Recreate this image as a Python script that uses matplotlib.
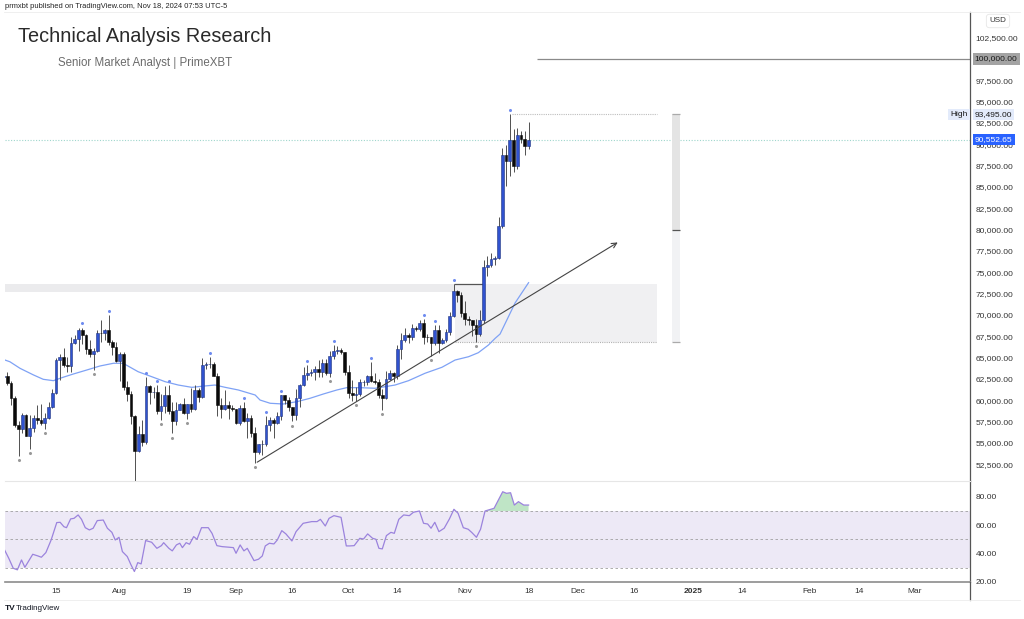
import matplotlib.pyplot as plt
import matplotlib.transforms as mtransforms
import numpy as np
import pandas as pd

plt.rcParams['font.family'] = ['Liberation Sans', 'DejaVu Sans']

# daily BTCUSD candles, 1 Jul - 18 Nov 2024
start = pd.Timestamp('2024-07-01')
dates = pd.date_range(start, '2024-11-18', freq='D')

opens = [62700, 62850, 62050, 60200, 57050, 56650, 58250, 55850, 56700, 57950, 57700, 57350, 57900, 59200, 60800,
         64750, 65050, 64100, 63950, 66700, 67150, 68200, 67600, 65950, 65400, 65800, 67900, 67850, 68250, 66800, 66200,
         64600, 65350, 61500, 60700, 58100, 54000, 56000, 55100, 61700, 60900, 60950, 58700, 59350, 60600, 58750,
         57550, 58900, 59500, 58450, 59500, 59000, 61150, 60400, 64100, 64200, 64250, 62850, 59400, 59000, 59400, 59100,
         58950, 57300, 59100, 57500, 57950, 56150, 53950, 54850, 54900, 57050, 57650, 57350, 58150, 60550, 60000,
         59150, 58200, 60300, 61750, 62950, 63200, 63350, 63600, 63300, 64300, 63150, 65200, 65800, 65900, 65600,
         63300, 60800, 60650, 60750, 62100, 62150, 62800, 62200, 62150, 60600, 60300, 62450, 63200, 62850, 66050,
         67050, 67600, 67400, 68400, 68350, 69000, 67400, 67350, 66700, 68200, 66650, 67050, 67950, 69900, 72750, 72300,
         70200, 69500, 69350, 68750, 67800, 69400, 75600, 75900, 76550, 76700, 80450, 88700, 88000, 90500, 87400,
         91100, 90600, 89850]
highs = [63800, 63300, 62300, 60500, 57500, 58450, 58400, 58200, 58300, 59400, 59500, 58500, 59800, 61300, 64900,
         65400, 66100, 65100, 67400, 67600, 68400, 68500, 67800, 67100, 66100, 68200, 69400, 68300, 70000, 67000, 66800,
         65600, 65600, 62200, 61100, 58300, 57000, 57700, 62700, 61800, 61500, 61800, 60700, 61600, 61800, 59800,
         59800, 59700, 60200, 59600, 61400, 61800, 61400, 64900, 64500, 65000, 64500, 63200, 60200, 61200, 59900, 59400,
         59000, 59400, 59800, 58500, 58300, 56900, 54900, 55300, 58100, 58000, 57900, 58600, 60600, 60650, 60400,
         59200, 61300, 61850, 63900, 64100, 63600, 64000, 64700, 64800, 64800, 65800, 66500, 66300, 66100, 65700,
         64100, 62400, 61500, 62500, 62400, 63000, 64500, 63200, 62500, 61300, 63400, 63500, 63300, 66500,
         67900, 68400, 67900, 68900, 68700, 69400, 69500, 67800, 67400, 68800, 68800, 67300, 68300, 70300, 73600, 72900,
         72700, 71600, 69900, 69400, 69500, 70600, 76400, 76900, 77300, 76900, 81500, 89600, 89900, 93495, 91800,
         91900, 91500, 91500, 92600]
lows = [62500, 61800, 59400, 56800, 53500, 56100, 55750, 54300, 56300, 57200, 57100, 56600, 57800, 59100, 60700,
        62400, 63900, 63300, 63300, 66600, 65800, 66600, 65400, 65100, 63500, 65700, 66800, 67100, 66500, 65300, 64500,
        62300, 61200, 59900, 57200, 49000, 53900, 54600, 54800, 59600, 60300, 58400, 57700, 58500, 58400, 56100,
        57100, 58800, 58400, 57800, 58600, 58800, 59800, 60300, 63600, 63800, 62800, 58100, 57900, 58800, 57800, 58700,
        57200, 57100, 57400, 55600, 55700, 52600, 53700, 53600, 54600, 56400, 55600, 57200, 57700, 59500, 58700,
        57500, 57700, 59200, 61600, 62400, 62800, 62400, 62700, 62700, 62900, 62700, 64800, 65400, 65400, 62900,
        60200, 59900, 59900, 60500, 61700, 61800, 62100, 61900, 60300, 58900, 60100, 62350, 62100, 62500,
        64800, 66800, 66700, 67100, 68100, 68100, 66600, 66800, 65200, 66500, 65500, 66600, 66800, 67600, 69700, 71500,
        69700, 68800, 68800, 67500, 66800, 67500, 69100, 74500, 75600, 75800, 76500, 80200, 85100, 86300, 86700,
        87100, 90100, 88700, 89500]
closes = [62850, 62050, 60200, 57050, 56650, 58250, 55850, 56700, 57950, 57700, 57350, 57900, 59200, 60800, 64750,
          65050, 64100, 63950, 66700, 67150, 68200, 67600, 65950, 65400, 65800, 67900, 67850, 68250, 66800, 66200, 64600,
          65350, 61500, 60700, 58100, 54000, 56000, 55100, 61700, 60900, 60950, 58700, 59350, 60600, 58750, 57550,
          58900, 59500, 58450, 59500, 59000, 61150, 60400, 64100, 64200, 64250, 62850, 59400, 59000, 59400, 59100, 58950,
          57300, 59100, 57500, 57950, 56150, 53950, 54850, 54900, 57050, 57650, 57350, 58150, 60550, 60000, 59150,
          58200, 60300, 61750, 62950, 63200, 63350, 63600, 63300, 64300, 63150, 65200, 65800, 65900, 65600, 63300,
          60800, 60650, 60750, 62100, 62150, 62800, 62200, 62150, 60600, 60300, 62450, 63200, 62850, 66050,
          67050, 67600, 67400, 68400, 68350, 69000, 67400, 67350, 66700, 68200, 66650, 67050, 67950, 69900, 72750, 72300,
          70200, 69500, 69350, 68750, 67800, 69400, 75600, 75900, 76550, 76700, 80450, 88700, 88000, 90500, 87400,
          91100, 90600, 89850, 90552.65]

# pivot markers (day index from 1 Jul)
pivot_high_days = [21, 28, 38, 41, 44, 55, 64, 70, 74, 81, 88, 98, 112, 115, 120, 135]
pivot_low_days = [4, 7, 11, 24, 42, 45, 49, 67, 77, 87, 94, 101, 114, 126]

# moving average (day index, price)
ma_days = [-0.9, 1.7, 4.4, 8.0, 10.6, 13.3, 15.9, 18.6, 22.2, 25.7, 29.3, 31.9, 35.9, 39.5, 43.1, 46.6, 50.2,
           53.7, 56.4, 59.1, 62.6, 67.1, 68.4, 71.1, 74.6, 78.2, 81.7, 85.3, 88.9, 91.5, 95.1, 99.1, 101.7, 104.4,
           108.0, 112.4, 116.9, 120.4, 124.0, 126.6, 129.3, 131.1, 132.4, 136.4, 140.0]
ma_vals = [64900, 64500, 63730, 62950, 62440, 62280, 62680, 63060, 63530, 64000, 64320, 64320, 63330, 62750, 62160,
           61770, 61500, 61660, 61770, 61500, 61190, 60600, 60010, 59630, 59545, 59815, 60210, 60720, 61190, 61460,
           61460, 61390, 61570, 61770, 62280, 63150, 63850, 64700, 65090, 65560, 66460, 67250, 67750, 71390, 73770]

# RSI (day index, value)
rsi_days = [0.2, 1.4, 2.6, 3.7, 4.8, 5.7, 7.8, 9.2, 10.1, 11.3, 12.7, 14.2, 15.1, 16.1, 16.8, 17.9, 18.8, 19.9,
            20.8, 21.8, 22.9, 23.9, 25.0, 26.6, 27.7, 28.9, 29.8, 30.8, 31.7, 33.0, 34.0, 34.9, 35.8, 36.7, 37.9,
            39.5, 40.9, 42.1, 42.7, 44.1, 45.0, 46.1, 47.0, 47.7, 48.7, 49.6, 50.7, 51.6, 52.8, 54.6, 55.6, 56.9,
            58.3, 60.1, 61.3, 62.0, 63.1, 64.1, 65.0, 66.8, 68.0, 69.0, 69.8, 70.9, 72.1, 73.0, 74.2, 75.3, 76.9,
            78.0, 79.9, 82.2, 83.6, 84.5, 85.8, 86.8, 88.1, 90.0, 91.4, 92.3, 93.5, 95.0, 96.0, 97.1, 98.4, 99.3,
            100.1, 101.0, 102.1, 103.3, 104.2, 105.4, 106.7, 108.2, 109.3, 110.9, 112.0, 113.1, 114.0, 115.0, 116.1,
            117.5, 118.9, 120.1, 121.2, 122.6, 123.9, 124.9, 126.1, 127.2, 128.4, 130.8, 133.1, 134.1, 135.2, 136.2,
            137.3, 138.7, 140.0]
rsi_vals = [42.9, 36.6, 29.5, 28.4, 35.4, 30.2, 39.4, 38.2, 37.3, 40.6, 49.5, 61.8, 62.0, 58.9, 58.2, 64.4, 64.8,
            67.2, 64.1, 58.2, 56.6, 57.8, 63.2, 63.6, 57.8, 54.9, 49.5, 51.4, 41.3, 37.8, 31.9, 27.2, 33.5, 32.6, 49.1,
            47.9, 43.6, 45.5, 47.6, 43.6, 41.8, 46.0, 47.2, 44.1, 47.6, 46.5, 51.9, 50.0, 58.2, 58.2, 54.2, 45.5, 44.8,
            44.4, 44.1, 40.1, 46.0, 41.8, 43.6, 34.9, 35.9, 38.2, 45.3, 47.2, 46.7, 49.5, 56.1, 53.8, 48.8, 55.4, 61.3,
            62.5, 62.5, 64.1, 59.4, 64.8, 66.7, 65.5, 45.3, 45.3, 45.5, 50.7, 50.2, 53.8, 50.7, 50.0, 43.6, 43.2, 52.6,
            54.9, 54.2, 64.1, 67.2, 66.7, 69.1, 70.0, 61.3, 60.8, 57.8, 62.0, 55.4, 57.8, 64.4, 71.2, 68.4, 58.2, 57.1,
            54.7, 51.4, 57.1, 70.0, 71.9, 83.6, 82.5, 82.9, 74.2, 76.6, 74.2, 74.2]

# drawings
range_top = 73616
range_strip_bottom = 72680
range_bottom = 66815
range_box_days = (120.4, 174.3)
breakout_line_days = (120.1, 127.9)
trend_start = (67, 52550)
trend_end = (164.4, 78660)
high_price = 93495
last_price = 90552.65
round_level = 100000
round_level_start = 142.3
high_line_days = (135.6, 174.3)
measure_days = (178.3, 180.4)
measure_mid = 80000

tick_dates = ['2024-07-15', '2024-08-01', '2024-08-19', '2024-09-01', '2024-09-16', '2024-10-01', '2024-10-14',
              '2024-11-01', '2024-11-18', '2024-12-01', '2024-12-16', '2025-01-01', '2025-01-14', '2025-02-01',
              '2025-02-14', '2025-03-01']
tick_labels = ['15', 'Aug', '19', 'Sep', '16', 'Oct', '14', 'Nov', '18', 'Dec', '16', '2025', '14', 'Feb', '14', 'Mar']

UP = '#3052cf'
DOWN = '#0a0a0a'
TXT = '#333333'

days = np.array((dates - start).days)
o = np.array(opens, float)
h = np.array(highs, float)
l = np.array(lows, float)
c = np.array(closes, float)
up = c >= o

W, H = 1024, 619
fig = plt.figure(figsize=(W / 100, H / 100), dpi=100)
ax = fig.add_axes([5 / W, (H - 481) / H, 965 / W, 469 / H])
ax2 = fig.add_axes([5 / W, (H - 582) / H, 965 / W, 101 / H], sharex=ax)

# --- price pane ---
ax.add_patch(plt.Rectangle((-5, range_strip_bottom), range_box_days[0] + 5, range_top - range_strip_bottom,
                           color='#ebebed', lw=0, zorder=0))
ax.add_patch(plt.Rectangle((range_box_days[0], range_bottom), range_box_days[1] - range_box_days[0],
                           range_top - range_bottom, color='#f0f0f2', lw=0, zorder=0))
ax.hlines(range_bottom, range_box_days[0], range_box_days[1], color='#b0b0b0', lw=0.8, ls=(0, (1, 1)), zorder=1)
ax.hlines(range_top, *breakout_line_days, color='#555555', lw=0.9, zorder=1)

ax.plot(ma_days, ma_vals, color='#7fa2f5', lw=0.9, zorder=2)

ax.vlines(days, l, h, color='#505050', lw=0.7, zorder=3)
body_lo = np.minimum(o, c)
body_h = np.maximum(np.abs(c - o), 60)
ax.bar(days, body_h, bottom=body_lo, width=0.72, color=np.where(up, UP, DOWN),
       edgecolor=np.where(up, '#1f347f', DOWN), lw=0.4, zorder=4)

off_up = mtransforms.ScaledTranslation(0, 3 / 72, fig.dpi_scale_trans)
off_dn = mtransforms.ScaledTranslation(0, -3 / 72, fig.dpi_scale_trans)
ax.plot(pivot_high_days, h[pivot_high_days], 'o', ms=1.2, color='#6f8cf0', transform=ax.transData + off_up,
        zorder=5)
ax.plot(pivot_low_days, l[pivot_low_days], 'o', ms=1.2, color='#999999', transform=ax.transData + off_dn,
        zorder=5)

ax.annotate('', xy=trend_end, xytext=trend_start,
            arrowprops=dict(arrowstyle='->', color='#444444', lw=0.8, mutation_scale=9), zorder=5)

ax.axhline(last_price, color='#9fd6cc', lw=0.8, ls=(0, (1, 1.5)), zorder=1)
ax.hlines(high_price, *high_line_days, color='#bdbdbd', lw=0.8, ls=(0, (1, 1)), zorder=1)
ax.hlines(round_level, round_level_start, 300, color='#8a8a8a', lw=0.9, zorder=1)

ax.add_patch(plt.Rectangle((measure_days[0], measure_mid), measure_days[1] - measure_days[0],
                           high_price - measure_mid, color='#e4e4e4', lw=0, zorder=1))
ax.add_patch(plt.Rectangle((measure_days[0], range_bottom), measure_days[1] - measure_days[0],
                           measure_mid - range_bottom, color='#f1f2f4', lw=0, zorder=1))
for lvl, col in [(high_price, '#aaaaaa'), (measure_mid, '#555555'), (range_bottom, '#aaaaaa')]:
    ax.hlines(lvl, *measure_days, color=col, lw=0.9, zorder=2)

ax.set_xlim(0.4, 257.7)
ax.set_ylim(50516, 105511)
ax.yaxis.tick_right()
ax.set_yticks(np.arange(52500, 103000, 2500))
ax.set_yticklabels([f'{v:,.2f}' for v in np.arange(52500, 103000, 2500)])
ax.tick_params(axis='y', length=0, pad=4, labelsize=6, labelcolor=TXT)
ax.tick_params(axis='x', length=0, labelbottom=False)
for s in ['top', 'left', 'bottom']:
    ax.spines[s].set_visible(False)
ax.spines['right'].set_color('#555555')
ax.spines['right'].set_linewidth(0.9)

lab = dict(fontsize=6, va='center', ha='left', transform=ax.get_yaxis_transform(), clip_on=False, zorder=10)
ax.text(1.005, round_level, f'{round_level:,.2f}', color='#1a1a1a',
        bbox=dict(boxstyle='square,pad=0.25', fc='#a3a3a3', ec='none'), **lab)
ax.text(1.005, high_price, f'{high_price:,.2f}', color='#1a1a1a',
        bbox=dict(boxstyle='square,pad=0.2', fc='#e3ebfb', ec='none'), **lab)
ax.text(0.9975, high_price, 'High', color='#1a1a1a', fontsize=6, va='center', ha='right',
        transform=ax.get_yaxis_transform(), bbox=dict(boxstyle='square,pad=0.25', fc='#e3ebfb', ec='none'),
        zorder=10)
ax.text(1.005, last_price, f'{last_price:,.2f}', color='white',
        bbox=dict(boxstyle='square,pad=0.25', fc='#2962ff', ec='none'), **lab)

# --- RSI pane ---
ax2.axhspan(30, 70, color='#ede9f6', lw=0, zorder=0)
for lvl in (70, 50, 30):
    ax2.axhline(lvl, color='#a0a0a0', lw=0.6, ls=(0, (3, 3)), zorder=1)
rd = np.array(rsi_days)
rv = np.array(rsi_vals)
ax2.fill_between(rd, 70, rv, where=rv > 70, interpolate=True, color='#bfe5c6', lw=0, zorder=2)
ax2.plot(rd, rv, color='#9b83dd', lw=0.9, zorder=3)
ax2.set_ylim(19.8, 91.2)
ax2.yaxis.tick_right()
ax2.set_yticks([20, 40, 60, 80])
ax2.set_yticklabels(['20.00', '40.00', '60.00', '80.00'])
ax2.tick_params(axis='y', length=0, pad=4, labelsize=6, labelcolor=TXT)

tick_pos = (pd.to_datetime(tick_dates) - start).days
ax2.set_xticks(tick_pos)
ax2.set_xticklabels(tick_labels)
ax2.tick_params(axis='x', length=0, pad=4, labelsize=6, labelcolor=TXT)
for t in ax2.get_xticklabels():
    if t.get_text() == '2025':
        t.set_fontweight('bold')
ax2.spines['left'].set_visible(False)
ax2.spines['top'].set_color('#e6e6e6')
ax2.spines['top'].set_linewidth(0.8)
ax2.spines['bottom'].set_color('#8c8c8c')
ax2.spines['bottom'].set_linewidth(1.2)
ax2.spines['right'].set_color('#555555')
ax2.spines['right'].set_linewidth(0.9)

# frame bits and header/footer
fig.add_artist(plt.Line2D([970 / W, 970 / W], [(H - 600) / H, (H - 582) / H], color='#555555', lw=0.9))
fig.add_artist(plt.Line2D([4 / W, 1020 / W], [(H - 600) / H, (H - 600) / H], color='#ececec', lw=0.6))
fig.add_artist(plt.Line2D([4 / W, 1020 / W], [(H - 12) / H, (H - 12) / H], color='#ececec', lw=0.6))
fig.text(998 / W, (H - 21) / H, 'USD', fontsize=5.8, color=TXT, ha='center', va='center',
         bbox=dict(boxstyle='round,pad=0.4', fc='white', ec='#e6e6e6', lw=0.6))
fig.text(5 / W, (H - 6) / H, 'prmxbt published on TradingView.com, Nov 18, 2024 07:53 UTC-5',
         fontsize=5.4, color='#222222', va='center')
fig.text(18 / W, (H - 37) / H, 'Technical Analysis Research', fontsize=14.3, color='#2a2a2a', va='center')
fig.text(145 / W, (H - 63) / H, 'Senior Market Analyst | PrimeXBT', fontsize=8.3, color='#6b6b6b',
         va='center', ha='center')
fig.text(5 / W, (H - 609) / H, 'TV', fontsize=6, fontweight='bold', color='#131722', va='center')
fig.text(16 / W, (H - 609) / H, 'TradingView', fontsize=5.8, color='#131722', va='center')

plt.savefig('out.png', dpi=100)
